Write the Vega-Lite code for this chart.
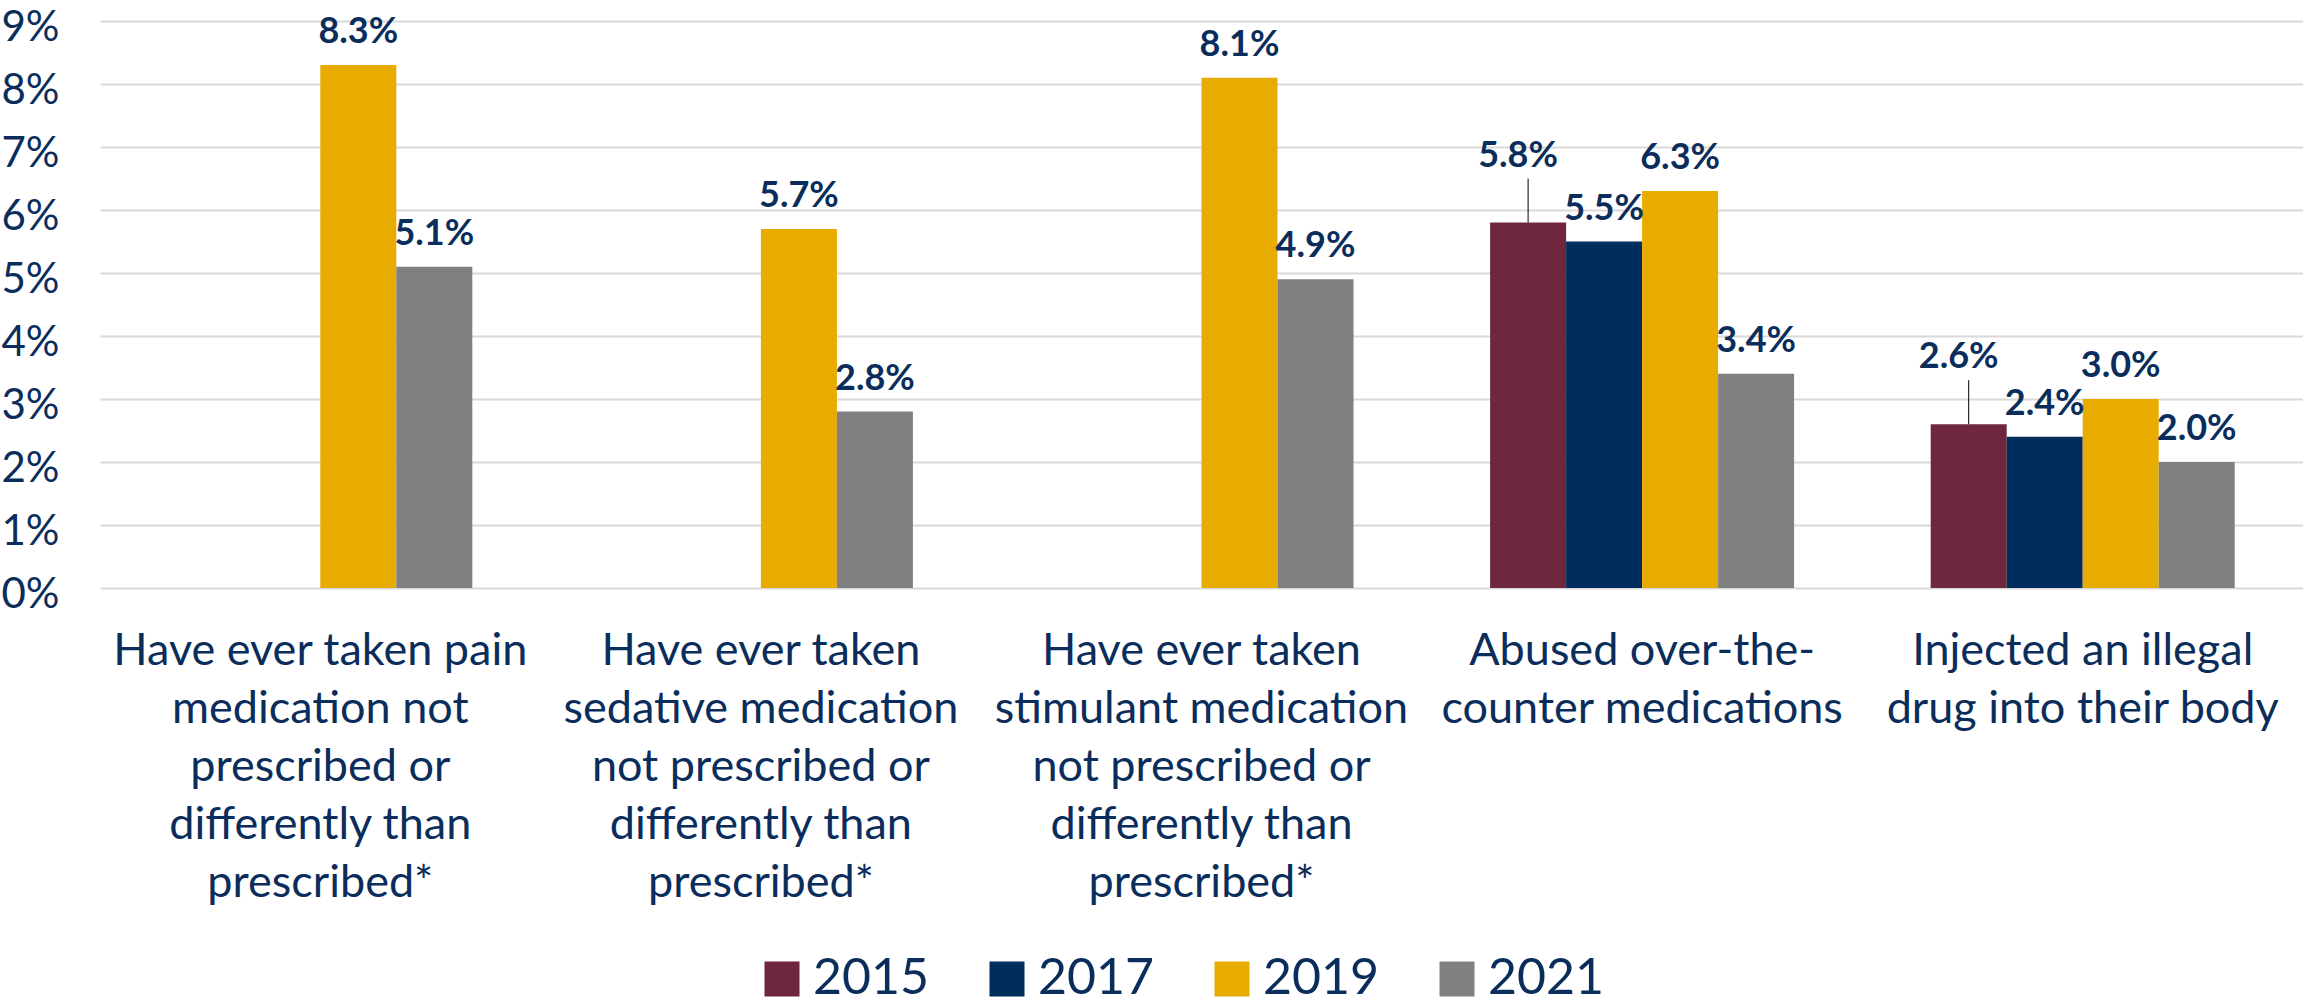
{
  "$schema": "https://vega.github.io/schema/vega-lite/v6.json",
  "width": 2203,
  "height": 567,
  "autosize": {"type": "none"},
  "padding": {"left": 100, "top": 21, "right": 0, "bottom": 417},
  "background": "white",
  "config": {"view": {"stroke": null}, "font": "Lato"},
  "data": {
    "values": [
      {"cat": "Have ever taken pain|medication not|prescribed or|differently than|prescribed*", "year": "2019", "value": 0.083},
      {"cat": "Have ever taken pain|medication not|prescribed or|differently than|prescribed*", "year": "2021", "value": 0.051},
      {"cat": "Have ever taken|sedative medication|not prescribed or|differently than|prescribed*", "year": "2019", "value": 0.057},
      {"cat": "Have ever taken|sedative medication|not prescribed or|differently than|prescribed*", "year": "2021", "value": 0.028},
      {"cat": "Have ever taken|stimulant medication|not prescribed or|differently than|prescribed*", "year": "2019", "value": 0.081},
      {"cat": "Have ever taken|stimulant medication|not prescribed or|differently than|prescribed*", "year": "2021", "value": 0.049},
      {"cat": "Abused over-the-|counter medications", "year": "2015", "value": 0.058},
      {"cat": "Abused over-the-|counter medications", "year": "2017", "value": 0.055},
      {"cat": "Abused over-the-|counter medications", "year": "2019", "value": 0.063},
      {"cat": "Abused over-the-|counter medications", "year": "2021", "value": 0.034},
      {"cat": "Injected an illegal|drug into their body", "year": "2015", "value": 0.026},
      {"cat": "Injected an illegal|drug into their body", "year": "2017", "value": 0.024},
      {"cat": "Injected an illegal|drug into their body", "year": "2019", "value": 0.030},
      {"cat": "Injected an illegal|drug into their body", "year": "2021", "value": 0.020}
    ]
  },
  "encoding": {
    "x": {
      "field": "cat", "type": "nominal", "sort": null,
      "scale": {"paddingInner": 0.31, "paddingOuter": 0.155},
      "axis": {
        "title": null, "labelAngle": 0, "labelExpr": "split(datum.label, '|')",
        "labelFontSize": 45, "labelLineHeight": 58, "labelColor": "#0B2D5B",
        "labelPadding": 40, "labelBaseline": "top", "labelLimit": 0,
        "domain": false, "ticks": false, "grid": false
      }
    },
    "xOffset": {
      "field": "year", "type": "nominal",
      "scale": {"domain": ["2015", "2017", "2019", "2021"], "paddingInner": 0, "paddingOuter": 0}
    },
    "y": {
      "field": "value", "type": "quantitative",
      "scale": {"domain": [0, 0.09], "nice": false},
      "axis": {
        "title": null, "values": [0, 0.01, 0.02, 0.03, 0.04, 0.05, 0.06, 0.07, 0.08, 0.09],
        "format": ".0%", "labelFontSize": 42, "labelColor": "#0B2D5B", "labelPadding": 41,
        "labelOffset": 6, "labelFlush": false,
        "domain": false, "ticks": false, "gridColor": "#D9D9D9", "gridWidth": 2
      }
    }
  },
  "layer": [
    {
      "mark": {"type": "bar"},
      "encoding": {
        "color": {
          "field": "year", "type": "nominal",
          "scale": {"domain": ["2015", "2017", "2019", "2021"], "range": ["#6E273D", "#002D5C", "#E8AC00", "#808080"]},
          "legend": {
            "title": null, "orient": "none", "direction": "horizontal",
            "legendX": 657, "legendY": 933,
            "symbolType": "square", "symbolSize": 1225, "symbolStrokeWidth": 0,
            "labelFontSize": 50, "labelColor": "#0B2D5B", "labelOffset": 6,
            "columnPadding": 52
          }
        }
      }
    },
    {
      "transform": [{"filter": "datum.year != '2015'"}],
      "mark": {"type": "text", "baseline": "bottom", "dy": -14, "fontWeight": "bold", "fontSize": 36, "color": "#0B2D5B"},
      "encoding": {"text": {"field": "value", "type": "quantitative", "format": ".1%"}}
    },
    {
      "transform": [{"filter": "datum.year == '2015'"}],
      "mark": {"type": "text", "baseline": "bottom", "dy": -48, "dx": -10, "fontWeight": "bold", "fontSize": 36, "color": "#0B2D5B"},
      "encoding": {"text": {"field": "value", "type": "quantitative", "format": ".1%"}}
    },
    {
      "transform": [{"filter": "datum.year == '2015'"}],
      "mark": {"type": "rule", "y2Offset": -44, "color": "#000000", "strokeWidth": 1},
      "encoding": {"y2": {"field": "value"}}
    }
  ]
}
